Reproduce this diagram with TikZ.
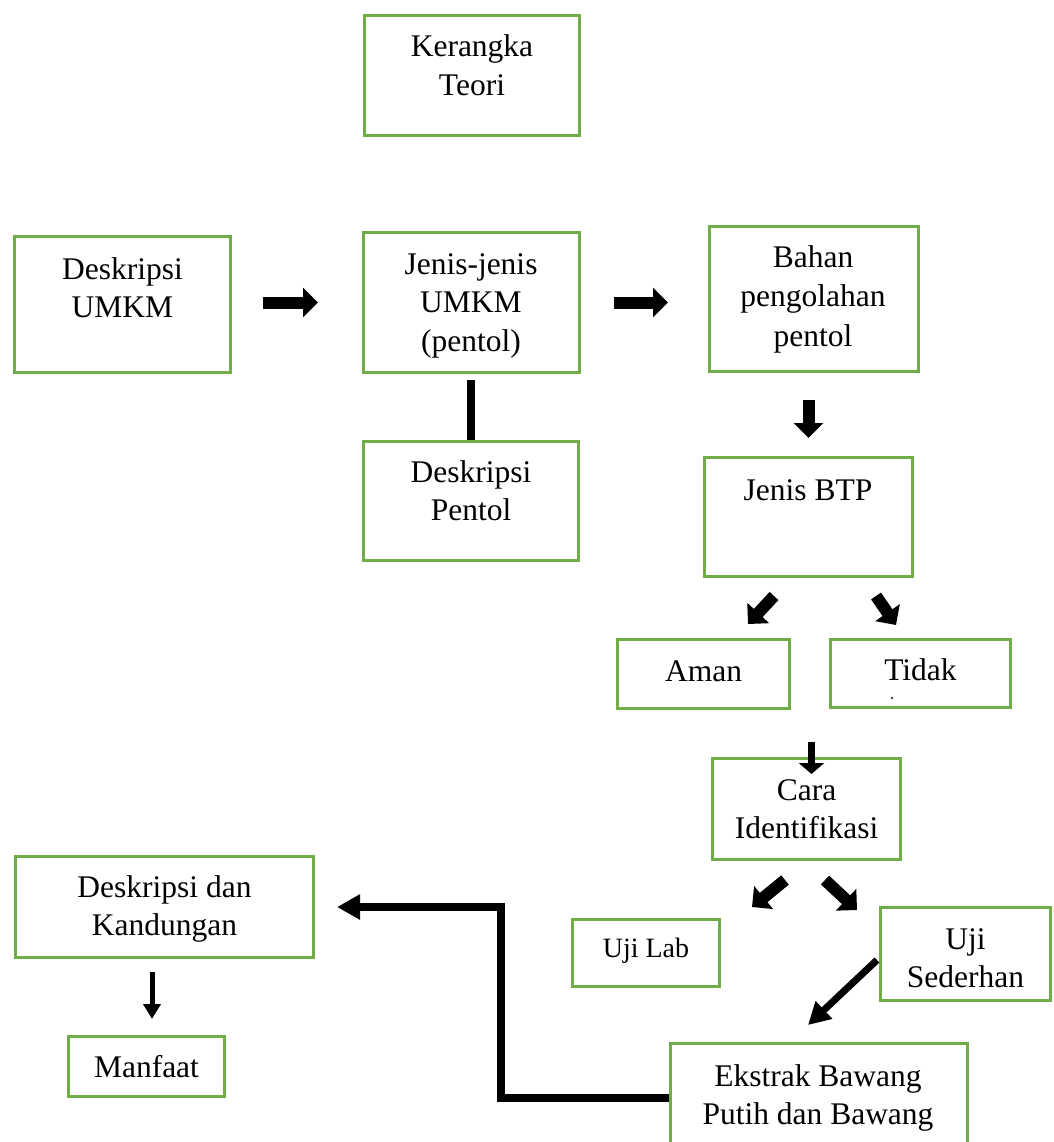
\documentclass[tikz,border=0pt]{standalone}
\usepackage{fontspec}
\setmainfont{Liberation Serif}
\usetikzlibrary{arrows.meta}
\definecolor{boxgreen}{HTML}{70AD47}
\begin{document}
\begin{tikzpicture}[x=1pt,y=-1pt,
  box/.style={draw=boxgreen, line width=3pt, rectangle, inner sep=0pt},
  txt/.style={align=center, inner sep=0pt, anchor=base, font=\fontsize{31.5}{38.5}\selectfont},
  smalltxt/.style={txt, font=\fontsize{28}{34}\selectfont},
  blkA/.style={line width=12pt, -{Triangle[length=15pt,width=29pt]}},
  blkB/.style={line width=7pt, -{Triangle[length=11pt,width=25pt]}},
  blkC/.style={line width=7pt, -{Triangle[length=22pt,width=23pt]}},
  blkD/.style={line width=5pt, -{Triangle[length=15pt,width=17pt]}},
  polyarr/.style={line width=8pt, line join=miter, -{Triangle[length=23pt,width=24pt]}},
  bar/.style={line width=8pt}]
\useasboundingbox (0,0) rectangle (1053,1142);
\clip (0,0) rectangle (1053,1142);

% boxes
\node[box, minimum width=215pt, minimum height=120pt] (ker) at (472,75.5) {};
\node[box, minimum width=216pt, minimum height=136pt] (d1) at (122.5,304.5) {};
\node[box, minimum width=216pt, minimum height=140pt] (j1) at (471.5,302.5) {};
\node[box, minimum width=209pt, minimum height=145pt] (bh) at (814,299) {};
\node[box, minimum width=215pt, minimum height=119pt] (dp) at (471,501) {};
\node[box, minimum width=208pt, minimum height=119pt] (btp) at (808.5,517) {};
\node[box, minimum width=172pt, minimum height=69pt] (aman) at (703.5,674) {};
\node[box, minimum width=180pt, minimum height=68pt] (tidak) at (920.5,673.5) {};
\node[box, minimum width=188pt, minimum height=101pt] (cara) at (806.5,809) {};
\node[box, minimum width=147pt, minimum height=67pt] (lab) at (646,953) {};
\node[box, minimum width=170pt, minimum height=93pt] (usd) at (965.5,954) {};
\node[box, minimum width=297pt, minimum height=135pt] (ek) at (819,1111) {};
\node[box, minimum width=298pt, minimum height=101pt] (dk) at (164.5,907) {};
\node[box, minimum width=156pt, minimum height=60pt] (mf) at (146.5,1066.5) {};

% texts (anchor=base of multi-line text is the last line's baseline)
\node[txt] (tker) at (472,95.5) {Kerangka\\Teori};
\node[txt] (td1) at (122.5,317.5) {Deskripsi\\UMKM};
\node[txt] (tj1) at (471,351) {Jenis-jenis\\UMKM\\(pentol)};
\node[txt, font=\fontsize{31.5}{39.5}\selectfont] (tbh) at (813,346) {Bahan\\pengolahan\\pentol};
\node[txt] (tdp) at (471,520.5) {Deskripsi\\Pentol};
\node[txt] (tbtp) at (808,500) {Jenis BTP};
\node[txt] (taman) at (703.5,681) {Aman};
\node[txt] (ttidak) at (920.5,680) {Tidak};
\node[txt] (tcara) at (806.5,838.5) {Cara\\Identifikasi};
\node[smalltxt] (tlab) at (646,957) {Uji Lab};
\node[txt] (tusd) at (965.5,987.5) {Uji\\Sederhan};
\node[txt] (tek) at (818,1124.5) {Ekstrak Bawang\\Putih dan Bawang};
\node[txt] (tdk) at (164.5,935.5) {Deskripsi dan\\Kandungan};
\node[txt] (tmf) at (146.5,1077) {Manfaat};
\fill (892,698) circle (1.1pt);

% free arrow ends
\coordinate (a1s) at (774,596);
\coordinate (a1e) at (748,624);
\coordinate (a2s) at (876,596);
\coordinate (a2e) at (896,625);
\coordinate (c1s) at (811.5,742);
\coordinate (c1e) at (811.5,774);
\coordinate (l1s) at (785,880);
\coordinate (l1e) at (752,907);
\coordinate (r1s) at (825,880);
\coordinate (r1e) at (857,910);
\coordinate (gs) at (877,960);
\coordinate (ge) at (808,1025);
\coordinate (ms) at (152,972);
\coordinate (me) at (152,1019);

% connectors
\draw[blkA, shorten <=31pt, shorten >=44pt] (d1.east |- j1.west) -- (j1.west);
\draw[blkA, shorten <=33pt, shorten >=40pt] (j1.east) -- (j1.east -| bh.west);
\draw[blkA, shorten <=27pt, shorten >=18pt] (btp.north |- bh.south) -- (btp.north);
\draw[bar, shorten <=6pt] (dp.north |- j1.south) -- (dp.north);
\draw[blkA] (a1s) -- (a1e);
\draw[blkA] (a2s) -- (a2e);
\draw[blkB] (c1s) -- (c1e);
\draw[blkA] (l1s) -- (l1e);
\draw[blkA] (r1s) -- (r1e);
\draw[blkC] (gs) -- (ge);
\draw[blkD] (ms) -- (me);
\draw[polyarr] ([yshift=13pt]ek.west) -| ([xshift=186pt]dk.east) -- ([xshift=22pt]dk.east);
\end{tikzpicture}
\end{document}
